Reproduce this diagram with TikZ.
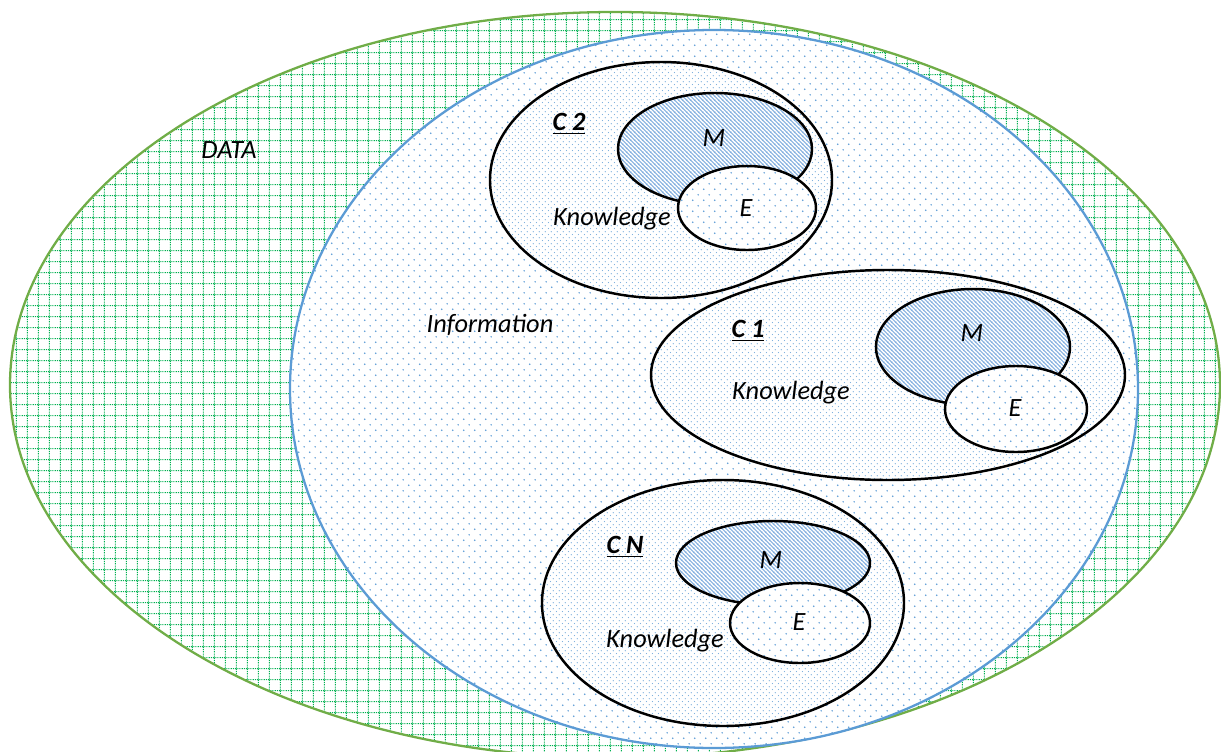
\documentclass[tikz,border=0pt]{standalone}
\usepackage{fontspec}
\setmainfont{Carlito}
\usetikzlibrary{patterns.meta}

\definecolor{datagreen}{RGB}{112,173,71}
\definecolor{gridgreen}{RGB}{0,176,80}
\definecolor{infoblue}{RGB}{91,155,213}
\definecolor{hatchblue}{RGB}{120,168,220}

% dotted green squares for the data set
\tikzdeclarepattern{
  name=gridlines, type=uncolored,
  bounding box={(0,0) and (6.24pt,6.24pt)},
  tile size={(6.24pt,6.24pt)},
  code={
    \draw[line width=0.6pt, dash pattern=on 0.6pt off 0.6pt]
      (0,3.12pt) -- (6.24pt,3.12pt) (3.12pt,0) -- (3.12pt,6.24pt);
  }
}
% loose dots (information, E)
\tikzdeclarepattern{
  name=loosedots, type=uncolored,
  bounding box={(0,0) and (6.24pt,6.24pt)},
  tile size={(6.24pt,6.24pt)},
  code={\fill (1.56pt,1.56pt) circle (0.45pt) (4.68pt,4.68pt) circle (0.45pt);}
}
% close dots (knowledge)
\tikzdeclarepattern{
  name=closedots, type=uncolored,
  bounding box={(0,0) and (3.6pt,3.6pt)},
  tile size={(3.6pt,3.6pt)},
  code={\fill (0.9pt,0.9pt) circle (0.38pt) (2.7pt,2.7pt) circle (0.38pt);}
}
% thin diagonal stripes (M)
\tikzdeclarepattern{
  name=mstripes, type=uncolored,
  bounding box={(0,0) and (2.4pt,2.4pt)},
  tile size={(2.4pt,2.4pt)},
  code={
    \draw[line width=0.6pt] (-0.5pt,2.9pt) -- (2.9pt,-0.5pt)
      (-0.5pt,0.5pt) -- (0.5pt,-0.5pt) (1.9pt,2.9pt) -- (2.9pt,1.9pt);
  }
}

\begin{document}
\begin{tikzpicture}[x=0.02cm, y=-0.02cm,
    lbl/.style={font=\fontsize{15}{18}\selectfont\itshape, inner sep=0pt},
    tag/.style={font=\fontsize{15}{18}\selectfont\bfseries\itshape, inner sep=0pt},
    ring/.style={draw=black, line width=1.4pt},
    know/.style={ring, preaction={fill=white}, pattern=closedots, pattern color=infoblue!85},
    mset/.style={ring, preaction={fill=white}, pattern=mstripes, pattern color=hatchblue},
    eset/.style={ring, preaction={fill=white}, pattern=loosedots, pattern color=infoblue}]

    \useasboundingbox (0,0) rectangle (1221,751);
    \clip (0,0) rectangle (1221,751);

    % data and information
    \path[preaction={fill=white}, pattern=gridlines, pattern color=gridgreen]
        (615,385) ellipse [x radius=605, y radius=373];
    \draw[datagreen, line width=1.3pt] (615,385) ellipse [x radius=605, y radius=373];
    \path[preaction={fill=white}, pattern=loosedots, pattern color=infoblue]
        (714,389) ellipse [x radius=424, y radius=359];
    \draw[infoblue, line width=1.3pt] (714,389) ellipse [x radius=424, y radius=359];

    % C 2
    \path[know] (661,180) ellipse [x radius=171, y radius=118];
    \path[mset] (715,149) ellipse [x radius=97, y radius=56];
    \path[eset] (747,208) ellipse [x radius=69, y radius=42];

    % C 1
    \path[know] (888,375) ellipse [x radius=237, y radius=105];
    \path[mset] (973,347) ellipse [x radius=97, y radius=58];
    \path[eset] (1016,409) ellipse [x radius=71, y radius=43];

    % C N
    \path[know] (723,603) ellipse [x radius=181, y radius=123];
    \path[mset] (773,563) ellipse [x radius=97, y radius=42];
    \path[eset] (800,623) ellipse [x radius=70, y radius=40];

    \node[lbl] (data) at (229,150) {DATA};
    \node[lbl] (info) at (490,325) {Information};

    \node[tag] (c2) at (569,124) {\underline{C 2}};
    \node[lbl] (k2) at (612,219) {Knowledge};
    \node[lbl] (m2) at (714,138) {M};
    \node[lbl] (e2) at (746,208) {E};

    \node[tag] (c1) at (748,331) {\underline{C 1}};
    \node[lbl] (k1) at (791,393) {Knowledge};
    \node[lbl] (m1) at (972,333) {M};
    \node[lbl] (e1) at (1015,408) {E};

    \node[tag] (cn) at (625,547) {\underline{C N}};
    \node[lbl] (kn) at (665,641) {Knowledge};
    \node[lbl] (mn) at (771,560) {M};
    \node[lbl] (en) at (799,622) {E};

\end{tikzpicture}
\end{document}
